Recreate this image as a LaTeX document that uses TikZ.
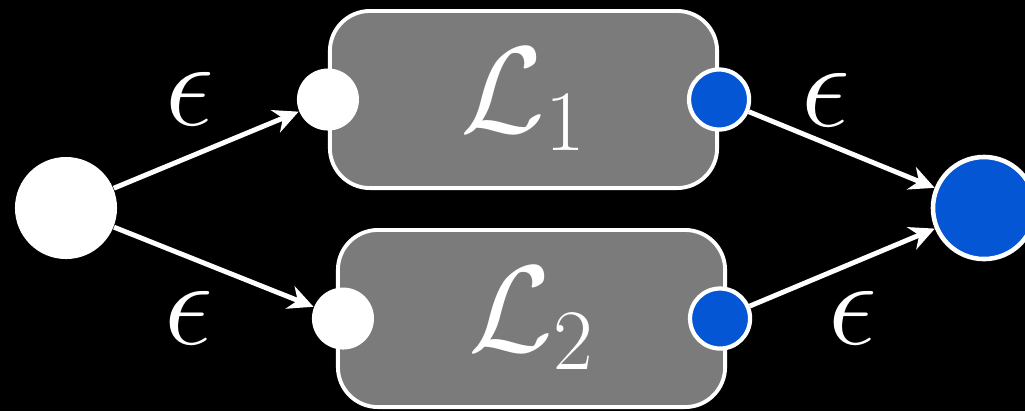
\RequirePackage{fix-cm}
\documentclass[tikz,border=0pt]{standalone}
\usepackage{amsmath}
\usetikzlibrary{arrows.meta,positioning}
\definecolor{NFABlue}{HTML}{0556D4}
\definecolor{NFAGray}{HTML}{7B7B7B}

\begin{document}
\begin{tikzpicture}[
      x=0.01cm,y=-0.01cm,
      font=\fontsize{35}{42}\selectfont,
      machine/.style={draw=white,fill=NFAGray,line width=1.1pt,rounded corners=.4cm,
        minimum width=3.87cm,minimum height=1.77cm,inner sep=0pt,text=white},
      startstate/.style={circle,fill=white,minimum size=1.02cm,inner sep=0pt},
      instate/.style={circle,fill=white,minimum size=.62cm,inner sep=0pt},
      outstate/.style={circle,fill=NFABlue,draw=white,line width=1.2pt,
        minimum size=.6cm,inner sep=0pt},
      acceptstate/.style={circle,fill=NFABlue,draw=white,line width=1.3pt,
        minimum size=1.02cm,inner sep=0pt},
      eps/.style={text=white,inner sep=0pt},
      arrow/.style={-{Stealth[length=.25cm,width=.24cm,inset=.08cm]},line width=1.4pt,white}
    ]
      \fill[black] (0,0) rectangle (1025,411);
      \useasboundingbox (0,0) rectangle (1025,411);
      \node[machine] (m1) at (523.5,99.5) {$\mathcal{L}_1$};
      \node[machine] (m2) at (531.5,318.5) {$\mathcal{L}_2$};
      \node[startstate] (start) at (66,208) {};
      \node[instate] (in1) at (m1.west) {};
      \node[instate] (in2) at ([xshift=.07cm]m2.west) {};
      \node[outstate] (out1) at (m1.east) {};
      \node[outstate] (out2) at ([xshift=-.07cm]m2.east) {};
      \node[acceptstate] (accept) at (984,208) {};
      \node[eps] (e1) at (190,99) {$\epsilon$};
      \node[eps] (e2) at (189,318) {$\epsilon$};
      \node[eps] (e3) at (826,100) {$\epsilon$};
      \node[eps] (e4) at (853,318) {$\epsilon$};
      \draw[arrow] (start)--(in1);
      \draw[arrow] (start)--(in2);
      \draw[arrow] (out1)--(accept);
      \draw[arrow] (out2)--(accept);
    \end{tikzpicture}
\end{document}
